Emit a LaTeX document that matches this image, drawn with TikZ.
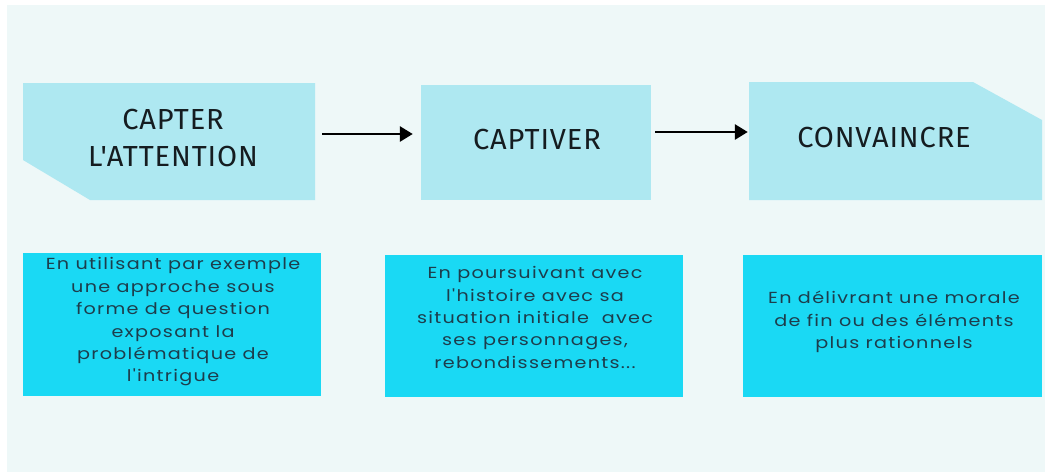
\documentclass[tikz,border=0pt]{standalone}
\usepackage{fontspec}
\newfontfamily\titlefont[LetterSpace=3]{Fira Sans}
\newfontfamily\bodyfont[FakeStretch=1.2, LetterSpace=8]{Poppins}
\usetikzlibrary{arrows.meta,calc}
\definecolor{bgc}{HTML}{EEF8F8}
\definecolor{topc}{HTML}{AEE8F1}
\definecolor{botc}{HTML}{1AD9F4}
\definecolor{titlec}{HTML}{151C20}
\definecolor{bodyc}{HTML}{1D3D4C}
\tikzset{
  titlebox/.style={rectangle, inner sep=0pt, font=\titlefont\fontsize{29}{37}\selectfont, text=titlec, align=center},
  bodybox/.style={rectangle, fill=botc, inner sep=0pt},
  bodytext/.style={inner sep=0pt, font=\bodyfont\fontsize{16}{22.4}\selectfont, text=bodyc, align=center},
  flow/.style={line width=2.8pt, -{Triangle[length=13pt,width=15pt]}}
}
\begin{document}
\begin{tikzpicture}[x=1pt,y=-1pt]
\useasboundingbox (0,0) rectangle (1045,472);
\fill[white] (0,0) rectangle (1045,472);
\fill[bgc] (7,5) rectangle (1045,472);
% top shapes
\fill[topc] (23,83) -- (315,83) -- (315,200) -- (90,200) -- (23,160) -- cycle;
\fill[topc] (421,85) rectangle (651,200);
\fill[topc] (749,82) -- (973,82) -- (1042,120) -- (1042,200) -- (749,200) -- cycle;
\node[titlebox, minimum width=292pt, minimum height=117pt] (b1) at (169,141.5) {};
\node[titlebox] (t1) at (173,138) {CAPTER\\L'ATTENTION};
\node[titlebox, minimum width=230pt, minimum height=115pt] (b2) at (536,142.5) {};
\node[titlebox] (t2) at (537,140) {CAPTIVER};
\node[titlebox, minimum width=293pt, minimum height=118pt] (b3) at (895.5,141) {};
\node[titlebox] (t3) at (884,138) {CONVAINCRE};
\draw[flow, shorten <=7pt, shorten >=8pt] ([yshift=7.5pt]b1.east) -- ([yshift=7.5pt]b1.east -| b2.west);
\draw[flow, shorten <=4pt, shorten >=1pt] ([yshift=10.5pt]b2.east) -- ([yshift=10.5pt]b2.east -| b3.west);
% bottom boxes
\node[bodybox, minimum width=298pt, minimum height=143pt] (c1) at (172,324.5) {};
\node[bodytext] (d1) at (173,322) {En utilisant par exemple\\une approche sous\\forme de question\\exposant la\\problématique de\\l'intrigue};
\node[bodybox, minimum width=298pt, minimum height=142pt] (c2) at (534,326) {};
\node[bodytext] (d2) at (535,317.5) {En poursuivant avec\\l'histoire avec sa\\situation initiale\ \ avec\\ses personnages,\\rebondissements...};
\node[bodybox, minimum width=299pt, minimum height=142pt] (c3) at (892.5,326) {};
\node[bodytext] (d3) at (894,322) {En délivrant une morale\\de fin ou des éléments\\plus rationnels};
\end{tikzpicture}
\end{document}
